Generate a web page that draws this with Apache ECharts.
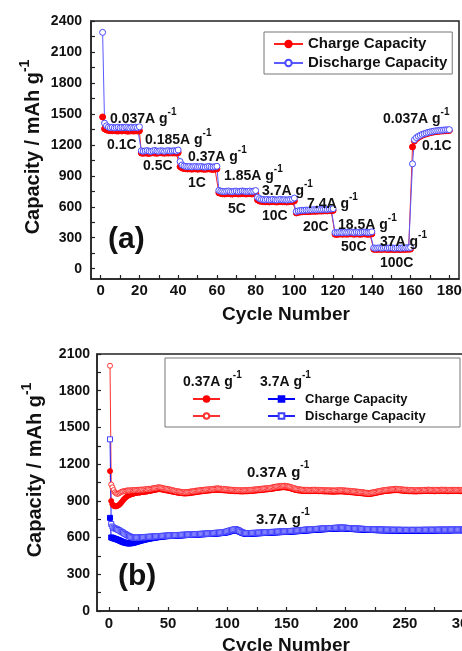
<!DOCTYPE html>
<html>
<head>
<meta charset="utf-8">
<title>Rate capability and cycling</title>
<script src="https://cdn.jsdelivr.net/npm/echarts@6/dist/echarts.min.js"></script>
<style>
html, body { margin: 0; padding: 0; background: #fff; }
#main { width: 462px; height: 651px; }
</style>
</head>
<body>
<div id="main"></div>
<script>
var FONT = '"Liberation Sans", Arial, Helvetica, sans-serif';

// ---------- panel (a): rate test, cycles 1-180 ----------
var chargeA = [
	1470,1355,1345,1340,1337,1336,1338,1335,1333,1337,1334,1338,1335,1332,1334,1337,1333,1336,1334,1336,
	1120,1118,1122,1119,1117,1121,1123,1120,1118,1122,1124,1121,1119,1122,1120,1123,1121,1122,1120,1124,
	988,976,970,968,966,968,964,967,968,964,966,967,964,963,966,967,964,962,965,967,
	736,729,726,724,727,729,725,723,727,728,724,726,729,727,724,726,728,724,727,729,
	666,656,652,650,648,651,647,650,652,648,646,649,651,648,650,646,649,651,652,656,
	540,546,549,551,552,554,553,555,556,557,556,558,559,558,560,561,560,562,562,564,
	334,332,335,336,334,337,334,336,338,336,334,337,336,333,336,338,335,333,335,337,
	188,186,187,189,187,188,189,186,187,188,187,186,188,187,186,188,187,189,188,190,
	1180,1236,1258,1272,1283,1292,1300,1306,1312,1317,1321,1325,1328,1330,1332,1334,1335,1337,1338,1339
];
var dischargeA = [
	2290,1410,1384,1372,1366,1370,1364,1368,1371,1365,1369,1366,1372,1368,1364,1370,1367,1371,1366,1375,
	1142,1138,1141,1144,1139,1137,1142,1145,1140,1138,1143,1141,1137,1142,1144,1139,1141,1143,1140,1150,
	1038,1005,995,991,988,990,986,989,991,986,988,990,985,984,988,991,986,985,988,992,
	758,751,749,747,750,753,748,746,750,752,747,750,753,751,748,749,752,748,751,757,
	692,679,672,670,667,671,666,668,672,667,665,669,671,667,669,665,668,671,673,684,
	555,560,563,566,565,568,567,570,569,572,571,572,574,573,575,576,574,577,578,581,
	350,348,351,352,350,354,351,352,355,353,350,354,352,349,353,355,352,350,352,357,
	201,198,200,202,199,200,203,199,201,202,200,198,201,200,199,202,200,203,201,206,
	1016,1250,1270,1283,1292,1301,1308,1314,1320,1325,1329,1333,1336,1338,1340,1342,1343,1345,1346,1347
];
var xLabelsA = [0, 20, 40, 60, 80, 100, 120, 140, 160, 180];
var xTicksA = [0, 10, 20, 30, 40, 50, 60, 70, 80, 90, 100, 110, 120, 130, 140, 150, 160, 170, 180];
var yLabelsA = [0, 300, 600, 900, 1200, 1500, 1800, 2100, 2400];
var yTicksA = [0, 150, 300, 450, 600, 750, 900, 1050, 1200, 1350, 1500, 1650, 1800, 1950, 2100, 2250, 2400];

// current densities and C-rates written on panel (a)
var rateCurrents = ['0.037A g', '0.185A g', '0.37A g', '1.85A g', '3.7A g', '7.4A g', '18.5A g', '37A g', '0.037A g'];
var rateCs = ['0.1C', '0.5C', '1C', '5C', '10C', '20C', '50C', '100C', '0.1C'];

// ---------- panel (b): long cycling, cycles 1-300 ----------
var charge037 = [
	1143,899,872,860,856,855,858,863,870,880,892,905,916,926,934,941,946,950,954,957,
	959,962,963,966,968,967,970,972,971,974,976,975,979,981,980,984,986,988,989,992,
	994,996,995,994,992,990,988,986,985,983,981,979,977,975,973,971,969,967,966,964,
	963,962,961,960,960,961,962,963,965,966,967,969,970,972,973,975,976,977,979,980,
	981,982,983,984,985,986,987,988,988,989,990,990,989,988,988,987,986,985,985,984,
	983,982,982,981,980,980,979,979,978,978,977,977,977,977,978,978,979,979,980,981,
	982,982,983,984,985,986,987,988,989,990,991,992,993,994,995,996,997,999,1000,1002,
	1004,1005,1007,1008,1009,1010,1011,1011,1010,1009,1008,1006,1003,1000,997,994,991,989,987,985,
	984,983,982,981,981,980,980,980,979,979,980,980,980,981,980,980,979,979,979,978,
	978,977,977,977,976,976,976,975,975,975,975,976,976,976,977,977,976,976,975,975,
	974,973,972,971,970,969,968,967,966,965,964,963,962,961,960,959,958,957,956,956,
	957,958,960,962,964,966,968,970,972,974,976,978,979,980,981,982,983,984,985,986,
	987,988,988,987,986,985,984,983,982,981,980,980,979,979,978,978,978,977,977,977,
	978,978,979,979,980,980,980,981,981,981,980,980,980,979,979,979,980,980,980,981,
	981,981,980,980,980,979,979,979,980,980,980,981,981,980,980,980,979,979,980,980
];
var discharge037 = [
	2004,1034,1010,988,970,962,957,959,964,970,975,977,981,980,984,986,983,987,985,988,
	986,989,987,990,991,988,992,993,990,994,996,993,997,999,996,1000,1002,1004,1003,1007,
	1009,1011,1010,1008,1007,1003,1001,998,999,995,994,991,990,986,985,981,980,977,978,975,
	974,973,971,972,970,973,972,975,976,978,977,981,982,984,983,986,988,987,990,989,
	991,993,992,995,994,997,996,999,998,1001,1000,1003,1001,999,1000,997,998,995,996,993,
	994,991,992,990,991,988,989,987,988,986,988,985,987,986,988,987,989,988,990,991,
	990,993,992,995,994,996,998,997,1000,999,1002,1001,1004,1003,1006,1005,1008,1010,1012,1014,
	1016,1018,1017,1021,1020,1023,1022,1024,1023,1021,1020,1017,1015,1011,1009,1005,1003,999,998,995,
	994,992,993,990,991,989,990,991,988,989,990,991,989,992,990,988,990,987,989,988,
	987,988,986,987,985,987,986,984,986,985,984,986,987,985,988,986,987,985,986,984,
	983,984,981,982,979,980,977,978,975,976,973,974,971,972,969,968,966,967,964,965,
	966,968,969,972,973,976,977,980,981,984,985,988,987,990,991,993,992,995,994,996,
	997,999,998,997,995,996,993,994,991,992,990,991,988,990,987,989,988,986,988,987,
	988,986,989,988,990,989,991,989,990,992,990,989,991,988,990,989,991,990,988,991,
	990,992,989,991,990,988,990,989,991,990,988,991,990,989,991,990,988,990,989,990
];
var charge37 = [
	761,601,598,594,591,588,584,580,576,572,567,563,560,557,555,553,552,553,554,556,
	558,561,564,567,570,572,575,578,580,583,585,587,589,591,593,595,596,598,599,601,
	603,604,606,607,608,609,610,611,612,612,613,614,614,615,615,616,616,617,617,618,
	618,619,619,620,620,621,621,622,622,623,623,624,624,625,625,626,626,627,627,628,
	628,629,629,630,630,631,631,632,632,633,634,634,635,636,637,638,639,640,642,644,
	647,650,653,656,658,660,661,659,656,651,646,641,637,634,632,631,631,631,632,632,
	633,633,634,634,635,635,636,636,637,637,638,638,639,639,640,640,641,641,642,642,
	643,643,644,644,645,645,646,646,647,647,648,648,649,649,650,650,651,652,652,653,
	654,655,655,656,657,658,658,659,660,661,661,662,663,663,664,665,665,666,667,667,
	668,669,669,670,670,671,671,672,672,673,673,674,674,675,675,676,676,675,675,674,
	673,673,672,671,671,670,669,669,668,668,667,667,666,666,665,665,664,664,663,663,
	663,662,662,662,661,661,661,660,660,660,660,659,659,659,659,659,658,658,658,658,
	658,658,658,657,657,657,657,657,657,657,657,657,657,657,657,657,657,657,657,657,
	657,657,657,657,658,658,658,658,658,658,658,658,658,658,658,658,659,659,659,659,
	659,659,659,659,659,659,659,659,659,660,660,660,660,660,660,660,660,660,660,660
];
var discharge37 = [
	1403,711,690,681,676,671,668,662,658,651,646,640,633,628,622,617,611,608,603,601,
	600,598,600,599,601,600,602,603,601,604,603,606,605,607,606,608,607,610,609,611,
	610,612,613,612,614,613,615,616,615,617,616,618,617,619,618,620,619,621,620,622,
	621,623,622,624,623,625,624,626,625,627,626,628,627,629,628,630,629,631,630,632,
	631,633,632,634,633,636,634,637,635,638,640,637,641,639,642,644,643,646,648,651,
	654,657,660,662,665,667,668,666,662,657,651,646,642,639,637,636,635,636,637,636,
	638,637,639,638,640,639,641,640,642,641,643,642,644,643,645,644,646,645,647,646,
	648,647,649,648,650,649,651,650,652,651,652,653,653,654,655,655,656,657,657,658,
	660,661,661,663,663,664,665,665,666,667,667,668,669,669,670,671,671,672,673,673,
	674,675,675,676,676,677,677,678,678,679,679,680,680,681,681,682,682,681,681,680,
	679,678,678,677,676,676,675,674,674,673,673,672,672,671,671,670,670,669,669,668,
	668,669,667,668,667,666,667,666,665,666,665,665,665,664,664,665,664,664,663,664,
	663,664,663,663,664,663,663,662,663,663,663,662,663,662,663,663,662,663,663,662,
	663,663,662,663,663,664,663,663,664,663,664,663,664,664,663,664,664,664,665,664,
	665,664,665,665,664,665,665,664,665,665,666,665,665,664,665,666,665,665,665,666
];
var xLabelsB = [0, 50, 100, 150, 200, 250, 300];
var xTicksB = [0, 25, 50, 75, 100, 125, 150, 175, 200, 225, 250, 275, 300];
var yLabelsB = [0, 300, 600, 900, 1200, 1500, 1800, 2100];
var yTicksB = [0, 150, 300, 450, 600, 750, 900, 1050, 1200, 1350, 1500, 1650, 1800, 1950, 2100];

/**
 * cycle number starts from 1
 */
function toPoints(arr) {
	var out = [];
	for (var i = 0; i < arr.length; i++) {
		out.push([i + 1, arr[i]]);
	}
	return out;
}

function supRich(size, supSize) {
	return {
		b: { fontSize: size, fontWeight: 'bold', fontFamily: FONT, lineHeight: size + 5, verticalAlign: 'bottom' },
		s: { fontSize: supSize, fontWeight: 'bold', fontFamily: FONT, lineHeight: supSize, verticalAlign: 'top' }
	};
}

// text with "-1" superscript, x = left edge, y = middle
function supText(x, y, base, size, rot) {
	var el = {
		type: 'text', x: x, y: y, z: 100,
		style: {
			text: '{b|' + base + '}{s|-1}',
			rich: supRich(size, Math.round(size * 0.68)),
			fill: '#111',
			align: rot ? 'center' : 'left', textAlign: rot ? 'center' : 'left',
			verticalAlign: 'middle', textVerticalAlign: 'middle'
		}
	};
	if (rot) {
		el.rotation = Math.PI / 2;
	}
	return el;
}

function plainText(x, y, txt, size, align) {
	return {
		type: 'text', x: x, y: y, z: 100,
		style: {
			text: txt, fill: '#111',
			font: 'bold ' + size + 'px ' + FONT,
			align: align || 'left', textAlign: align || 'left',
			verticalAlign: 'middle', textVerticalAlign: 'middle'
		}
	};
}

function plainNum(v) {
	return String(v);
}

function xAxisOf(gi, min, max, labels, ticks, margin) {
	return {
		type: 'value', gridIndex: gi, min: min, max: max,
		axisLine: { show: true, onZero: false, lineStyle: { color: '#222', width: 1.5 } },
		axisTick: { show: true, inside: true, length: 4, customValues: ticks, lineStyle: { color: '#222', width: 1.2 } },
		axisLabel: { customValues: labels, formatter: plainNum, margin: margin, color: '#111', fontSize: 15, fontWeight: 'bold', fontFamily: FONT },
		splitLine: { show: false }
	};
}

function yAxisOf(gi, min, max, labels, ticks, margin) {
	return {
		type: 'value', gridIndex: gi, min: min, max: max,
		axisLine: { show: true, onZero: false, lineStyle: { color: '#222', width: 1.5 } },
		axisTick: { show: true, inside: true, length: 4, customValues: ticks, lineStyle: { color: '#222', width: 1.2 } },
		axisLabel: { customValues: labels, formatter: plainNum, margin: margin, color: '#111', fontSize: 14, fontWeight: 'bold', fontFamily: FONT },
		splitLine: { show: false }
	};
}

function lineSeries(name, gi, arr, symbol, size, fill, border, lineColor) {
	return {
		name: name, type: 'line', xAxisIndex: gi, yAxisIndex: gi,
		data: toPoints(arr),
		symbol: symbol, symbolSize: size, showAllSymbol: true,
		itemStyle: { color: fill, borderColor: border, borderWidth: 1 },
		lineStyle: { color: lineColor, width: 1 },
		emphasis: { disabled: true }
	};
}

// annotation places (left edge, middle) in panel (a)
var currentPos = [[110, 117], [145, 138], [188, 155], [224, 174], [262, 189], [307, 202], [338, 223], [380, 240], [383, 117]];
var cPos = [[107, 145], [143, 166], [188, 183], [228, 209], [262, 216], [303, 227], [341, 247], [380, 263], [422, 146]];

var graphics = [];
for (var i = 0; i < rateCurrents.length; i++) {
	graphics.push(supText(currentPos[i][0], currentPos[i][1], rateCurrents[i], 14));
	graphics.push(plainText(cPos[i][0], cPos[i][1], rateCs[i], 14));
}
graphics.push(plainText(108, 240, '(a)', 30));
graphics.push(plainText(118, 577, '(b)', 30));
graphics.push(plainText(286, 315, 'Cycle Number', 19, 'center'));
graphics.push(plainText(286, 646, 'Cycle Number', 19, 'center'));
graphics.push(supText(31, 147, 'Capacity / mAh g', 20, true));
graphics.push(supText(33, 470, 'Capacity / mAh g', 20, true));
graphics.push(supText(247, 470, '0.37A g', 15));
graphics.push(supText(256, 517, '3.7A g', 15));
// legend box of panel (b) and its column headers
graphics.push({
	type: 'rect', z: 90,
	shape: { x: 165, y: 358, width: 295, height: 69 },
	style: { fill: '#fff', stroke: '#777', lineWidth: 1 }
});
graphics.push(supText(183, 380, '0.37A g', 14));
graphics.push(supText(260, 380, '3.7A g', 14));

var myChart = echarts.init(document.getElementById('main'), null, { renderer: 'canvas' });
var option = {
	animation: false,
	backgroundColor: '#fff',
	grid: [
		{ left: 91, top: 21, width: 368, height: 258, show: true, borderColor: '#222', borderWidth: 1.5, outerBoundsMode: 'none' },
		{ left: 97, top: 354, width: 379, height: 257, show: true, borderColor: '#222', borderWidth: 1.5, outerBoundsMode: 'none' }
	],
	xAxis: [
		xAxisOf(0, -5, 185, xLabelsA, xTicksA, 4),
		xAxisOf(1, -10, 310, xLabelsB, xTicksB, 5)
	],
	yAxis: [
		yAxisOf(0, -100, 2400, yLabelsA, yTicksA, 9),
		yAxisOf(1, 0, 2100, yLabelsB, yTicksB, 7)
	],
	legend: [
		{
			data: ['Charge Capacity', 'Discharge Capacity'],
			orient: 'vertical', left: 264, top: 32, padding: [4, 5, 3, 9], itemGap: 3,
			itemWidth: 29, itemHeight: 8, selectedMode: false,
			borderColor: '#777', borderWidth: 1, backgroundColor: '#fff',
			textStyle: { color: '#111', fontSize: 15, fontWeight: 'bold', fontFamily: FONT, lineHeight: 16 }
		},
		{
			data: ['0.37A Charge', '0.37A Discharge'],
			orient: 'vertical', left: 192, top: 392, padding: 0, itemGap: 3, z: 95,
			itemWidth: 27, itemHeight: 7, selectedMode: false,
			formatter: function () { return ' '; },
			textStyle: { color: '#111', fontSize: 13, fontWeight: 'bold', fontFamily: FONT, lineHeight: 14 }
		},
		{
			data: ['3.7A Charge', '3.7A Discharge'],
			orient: 'vertical', left: 267, top: 392, padding: 0, itemGap: 3, z: 95,
			itemWidth: 27, itemHeight: 7, selectedMode: false,
			formatter: function (name) {
				return name.indexOf('Discharge') >= 0 ? 'Discharge Capacity' : 'Charge Capacity';
			},
			textStyle: { color: '#111', fontSize: 13, fontWeight: 'bold', fontFamily: FONT, lineHeight: 14, padding: [0, 0, 0, 5] }
		}
	],
	graphic: graphics,
	series: [
		lineSeries('Charge Capacity', 0, chargeA, 'circle', 6, '#ff0000', '#ff0000', '#ff2020'),
		lineSeries('Discharge Capacity', 0, dischargeA, 'circle', 6, '#ffffff', '#4a4aff', '#5a5aff'),
		lineSeries('0.37A Charge', 1, charge037, 'circle', 5, '#ff0000', '#ff0000', '#ff2020'),
		lineSeries('0.37A Discharge', 1, discharge037, 'circle', 5, '#ffffff', '#ff3030', '#ff3030'),
		lineSeries('3.7A Charge', 1, charge37, 'rect', 5, '#0000ff', '#0000ff', '#0000ff'),
		lineSeries('3.7A Discharge', 1, discharge37, 'rect', 5, '#ffffff', '#4040ff', '#2020ff')
	]
};
myChart.setOption(option);
</script>
</body>
</html>
